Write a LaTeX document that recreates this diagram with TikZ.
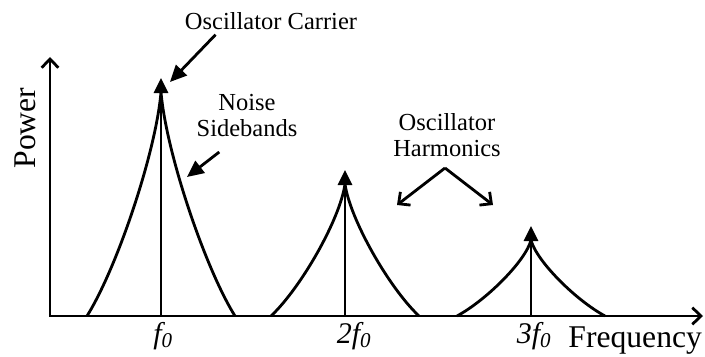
\documentclass[tikz,border=0pt]{standalone}
\usepackage{fontspec}
\setmainfont{Liberation Serif}
\usetikzlibrary{arrows.meta,positioning}

\begin{document}
\begin{tikzpicture}[x=0.03cm,y=0.03cm,line width=2.4pt,
  tri/.style={-{Triangle[length=4.5mm,width=4.2mm]}},
  note/.style={inner sep=0pt,align=center,font=\fontsize{20.9}{22.2}\selectfont},
  big/.style={inner sep=0pt,font=\fontsize{25.6}{28}\selectfont}]
\useasboundingbox (0,0) rectangle (705,356);
\coordinate (o) at (50,40);
\coordinate (ytop) at (50,299);
\coordinate (xend) at (703,40);
\draw[{Straight Barb[length=2.6mm,width=5mm]}-{Straight Barb[length=2.6mm,width=5mm]}] (ytop) -- (o) -- (xend);
\foreach \i/\x/\t in {1/161/264,2/345/172,3/531/116}{
  \coordinate (b\i) at (\x,40);
  \coordinate (t\i) at (\x,\t+14);
  \draw (\x-74,40) .. controls (\x-44,{40+0.214*(\t-40)}) and (\x-5,{\t-0.268*(\t-40)}) .. (\x,\t)
    .. controls (\x+5,{\t-0.268*(\t-40)}) and (\x+44,{40+0.214*(\t-40)}) .. (\x+74,40);
  \draw[tri] (b\i) -- (t\i);
}
\node[big,rotate=90,font=\fontsize{27}{29}\selectfont] (power) at (25,228) {Power};
\node[big,anchor=base west,font=\fontsize{27}{29}\selectfont] (freq) at (567,9) {Frequency};
\node[big,anchor=base] (f1) at (163,13) {\itshape f\textsubscript{0}};
\node[big,anchor=base] (f2) at (354,13) {\itshape 2f\textsubscript{0}};
\node[big,anchor=base] (f3) at (534,13) {\itshape 3f\textsubscript{0}};
\node[note,anchor=base] (carrier) at (271,326) {Oscillator Carrier};
\node[note,anchor=south] (noise) at (247,218) {Noise\\Sidebands};
\node[note,anchor=south] (harm) at (447,198) {Oscillator\\Harmonics};
\coordinate (ct) at (170,274);
\coordinate (nt) at (187,179);
\coordinate (hl) at (397,151);
\coordinate (hr) at (493,151);
\coordinate (hv) at ([shift={(-2,-10)}]harm.south);
\draw[-{Triangle[length=5mm,width=4.5mm]}] ([shift={(32,-3)}]carrier.south west) -- (ct);
\draw[-{Triangle[length=5mm,width=4.5mm]}] ([shift={(24,-14)}]noise.south west) -- (nt);
\draw[-{Straight Barb[length=2.6mm,width=5mm]}] (hv) -- (hl);
\draw[-{Straight Barb[length=2.6mm,width=5mm]}] (hv) -- (hr);
\end{tikzpicture}
\end{document}
